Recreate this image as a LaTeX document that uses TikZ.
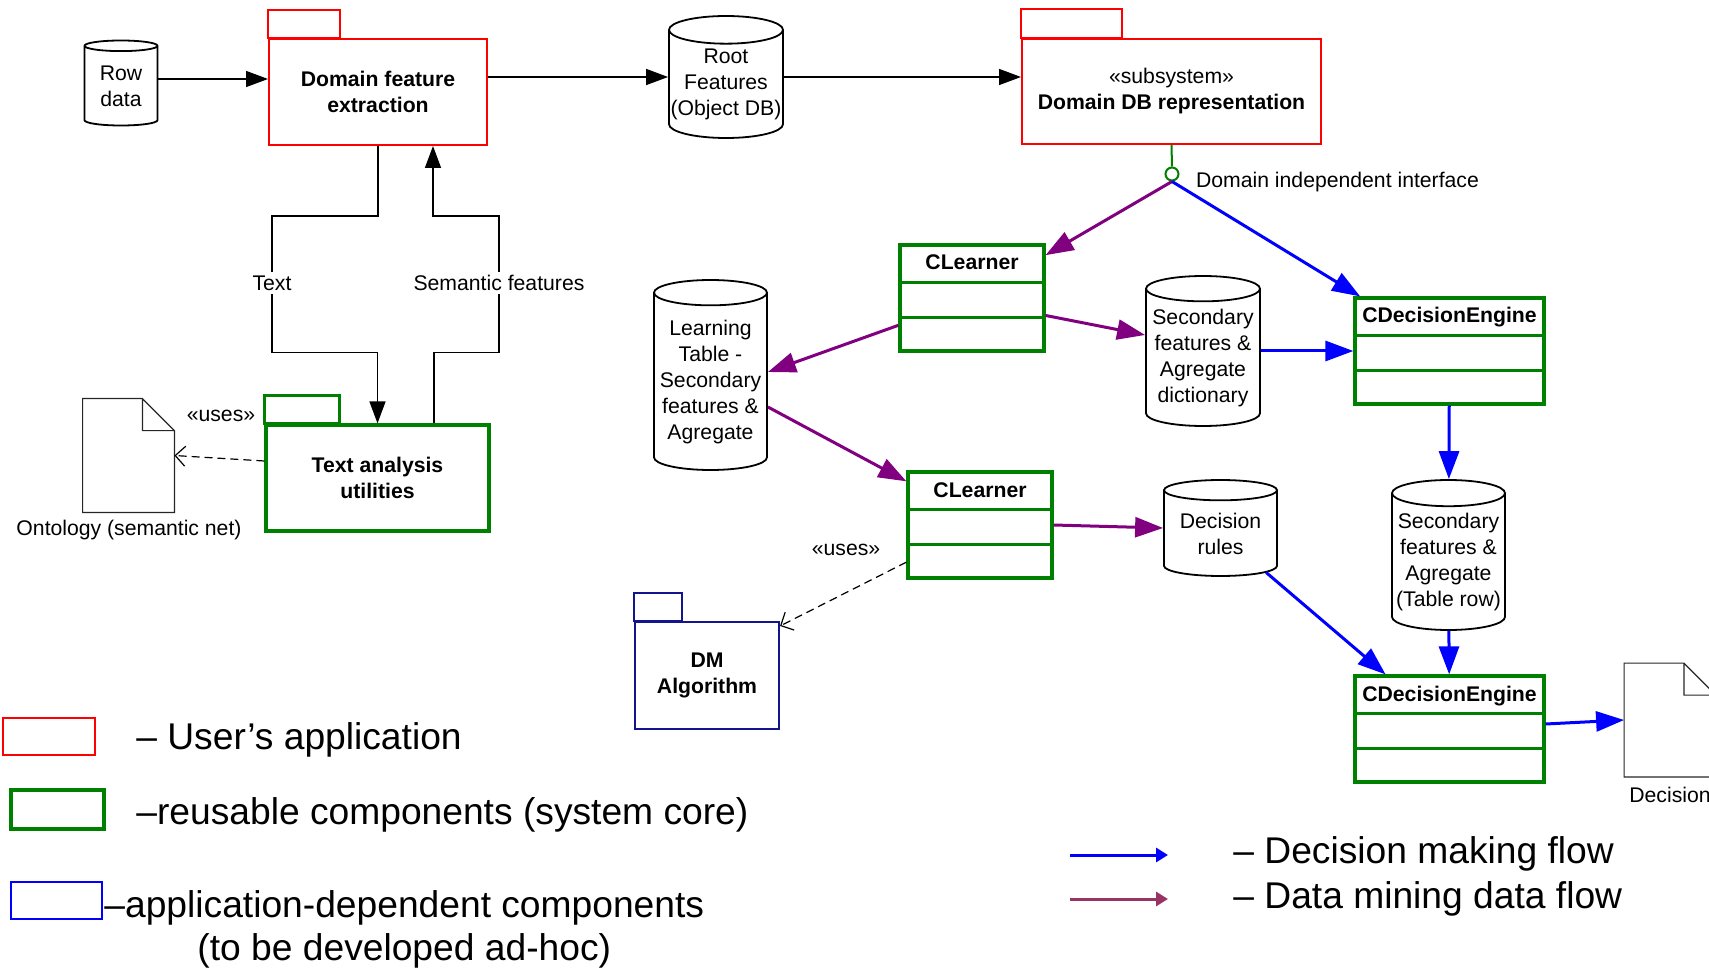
\documentclass[tikz,border=0pt]{standalone}
\usepackage{fontspec}
\setmainfont{Liberation Sans}
\usetikzlibrary{shapes.geometric,arrows.meta,calc}

\definecolor{userred}{HTML}{FF0000}
\definecolor{coregreen}{HTML}{008000}
\definecolor{dmpurple}{HTML}{800080}
\definecolor{flowblue}{HTML}{0000FF}
\definecolor{dmnavy}{HTML}{14148C}
\definecolor{keypurple}{HTML}{993366}

\begin{document}
\begin{tikzpicture}[x=0.5pt,y=-0.5pt,
    font=\fontsize{10.6}{13}\selectfont,
    userbox/.style={draw=userred,line width=1pt,inner sep=0pt,align=center},
    corebox/.style={draw=coregreen,line width=1.6pt,inner sep=0pt,align=center},
    appbox/.style={draw=dmnavy,line width=1pt,inner sep=0pt,align=center},
    pkgtitle/.style={font=\bfseries\fontsize{10.6}{13}\selectfont},
    classtitle/.style={anchor=base,yshift=-13.3pt,font=\bfseries\fontsize{10.6}{13}\selectfont},
    db/.style={cylinder,shape border rotate=90,aspect=0.25,draw,line width=0.9pt,
      inner sep=0pt,align=center,anchor=shape center},
    docbox/.style={inner sep=0pt,minimum width=45.5pt,minimum height=56.5pt},
    docline/.style={draw=black!85,line width=0.6pt},
    plain/.style={line width=0.75pt},
    blackarrow/.style={plain,-{Triangle[length=11pt,width=8pt]}},
    decflow/.style={draw=flowblue,line width=1.5pt,-{Triangle[length=14pt,width=10pt]}},
    dmflow/.style={draw=dmpurple,line width=1.5pt,-{Triangle[length=14pt,width=10pt]}},
    uses/.style={dash pattern=on 4pt off 2.5pt,line width=0.6pt,-{Straight Barb[length=5pt,width=10pt]}},
    flowlabel/.style={fill=white,inner sep=1.5pt},
    legendtext/.style={anchor=west,align=center,inner sep=0pt,font=\fontsize{18.6}{21.5}\selectfont},
  ]
  \useasboundingbox (0,0) rectangle (1709,968);

  % user's application
  \node[userbox,pkgtitle,minimum width=109pt,minimum height=53pt] (dfe) at (378,92) {Domain feature\\extraction};
  \draw[userbox] (dfe.north west) rectangle ++(72,-28);
  \node[userbox,minimum width=149.5pt,minimum height=52.5pt] (ddb) at (1171.5,91.5)
      {«subsystem»\\\textbf{Domain DB representation}};
  \draw[userbox] (ddb.north west) rectangle ++(101,-29);

  % data stores
  \node[db,minimum width=36.5pt,minimum height=42.5pt] (row) at (121,83) {Row\\data};
  \node[db,minimum width=57pt,minimum height=61pt] (root) at (726,77) {Root\\Features\\(Object DB)};
  \node[db,minimum width=56.5pt,minimum height=95pt] (lt) at (710.5,375)
      {Learning\\Table -\\Secondary\\features \&\\Agregate};
  \node[db,minimum width=57pt,minimum height=75pt] (dict) at (1203,351)
      {Secondary\\features \&\\Agregate\\dictionary};
  \node[db,minimum width=56.5pt,minimum height=48pt] (rules) at (1220.5,528) {Decision\\rules};
  \node[db,minimum width=56.5pt,minimum height=75pt] (trow) at (1448.5,555)
      {Secondary\\features \&\\Agregate\\(Table row)};

  % reusable core
  \node[corebox,minimum width=72pt,minimum height=53pt,label={[classtitle]north:CLearner}] (cl1) at (972,298) {};
  \node[corebox,minimum width=72pt,minimum height=53pt,label={[classtitle]north:CLearner}] (cl2) at (980,525) {};
  \node[corebox,minimum width=94.5pt,minimum height=53pt,label={[classtitle]north:CDecisionEngine}] (cde1) at (1449.5,351) {};
  \node[corebox,minimum width=94.5pt,minimum height=53pt,label={[classtitle]north:CDecisionEngine}] (cde2) at (1449.5,729) {};
  \foreach \c in {cl1,cl2,cde1,cde2}
    \foreach \f in {0.36,0.68}
      \draw[draw=coregreen,line width=1.6pt] ($(\c.north west)!\f!(\c.south west)$) -- ($(\c.north east)!\f!(\c.south east)$);

  \node[corebox,pkgtitle,minimum width=111.5pt,minimum height=53pt] (tau) at (377.5,478) {Text analysis\\utilities};
  \draw[draw=coregreen,line width=1.6pt] (tau.north west) rectangle ++(75,-28);

  % application dependent
  \node[appbox,pkgtitle,minimum width=72pt,minimum height=53.5pt] (dm) at (707,675.5) {DM\\Algorithm};
  \draw[appbox] (dm.north west) rectangle ++(48,-28);

  % interface
  \node[circle,draw=coregreen,line width=1pt,minimum size=6.5pt,inner sep=0pt] (iface) at (1172,174) {};
  \draw[draw=coregreen,line width=1pt] (ddb.south) -- (iface.north);
  \node[anchor=west] (ifacelbl) at (1189,182) {Domain independent interface};

  % documents
  \node[docbox] (onto) at (128.5,455.5) {};
  \node[docbox] (dec) at (1670,720) {};
  \foreach \d in {onto,dec}
    \draw[docline] (\d.north west) -- ([xshift=-16pt]\d.north east) -- ([yshift=-16pt]\d.north east)
      -- (\d.south east) -- (\d.south west) -- cycle
      ([xshift=-16pt]\d.north east) |- ([yshift=-16pt]\d.north east);
  \node (ontolbl) at (129,530) {Ontology (semantic net)};
  \node (declbl) at (1670,795) {Decision};
  \node (uses1) at (221,416) {«uses»};
  \node (uses2) at (846,550) {«uses»};

  % black flows
  \draw[blackarrow] ([yshift=2pt]row.east |- row.shape center) -- ([yshift=2pt]dfe.west |- row.shape center);
  \draw[blackarrow] (dfe.east |- root.shape center) -- (root.west |- root.shape center);
  \draw[blackarrow] (root.east |- root.shape center) -- (ddb.west |- root.shape center);
  \node[flowlabel] (txt) at (272,283) {Text};
  \node[flowlabel] (sem) at (499,283) {Semantic features};
  \draw[plain] (dfe.south) -- ++(0,70) -| (txt.north);
  \draw[blackarrow] (txt.south) |- ([yshift=35.5pt]tau.north) -- (tau.north);
  \coordinate (semfrom) at ($(tau.north west)!0.75!(tau.north east)$);
  \coordinate (semto) at ($(dfe.south west)!0.75!(dfe.south east)$);
  \draw[plain] (semfrom) -- ++(0,-71) -| (sem.south);
  \draw[blackarrow] (sem.north) |- ([yshift=-35pt]semto) -- (semto);

  % uses
  \draw[uses] ([yshift=8.5pt]tau.west) -- (onto.east);
  \draw[uses] ($(cl2.north west)!0.84!(cl2.south west)$) -- ([yshift=-2.5pt]dm.north east);

  % data mining and decision flows
  \draw[dmflow] (iface.south) -- (cl1);
  \draw[decflow] (iface.south) -- (cde1);
  \draw[dmflow] ($(cl1.south west)!0.25!(cl1.north west)$) -- ([yshift=1.5pt]lt.east |- lt.shape center);
  \draw[dmflow] ($(cl1.north east)!0.66!(cl1.south east)$) -- ([yshift=8pt]dict.west |- dict.shape center);
  \draw[decflow] (dict.east |- dict.shape center) -- (cde1.west |- dict.shape center);
  \draw[dmflow] ([yshift=-16pt]lt.east |- lt.shape center) -- ($(cl2.north west)!0.1!(cl2.south west)$);
  \draw[dmflow] (cl2.east) -- (rules.west |- rules.shape center);
  \draw[decflow] (rules) -- (cde2);
  \draw[decflow] (cde1) -- (trow);
  \draw[decflow] (trow) -- (cde2);
  \draw[decflow] ([yshift=2.5pt]cde2.east) -- (dec.west);

  % legend
  \node[draw=userred,line width=1pt,minimum width=46pt,minimum height=18.5pt] (keyuser) at (49,736.5) {};
  \node[legendtext] (keyusertxt) at (136,740) {– User’s application};
  \node[draw=coregreen,line width=2pt,minimum width=46.5pt,minimum height=19.5pt] (keycore) at (57.5,809.5) {};
  \node[legendtext] (keycoretxt) at (136,815) {–reusable components (system core)};
  \node[draw=flowblue,line width=1.3pt,minimum width=45.5pt,minimum height=18.5pt] (keyapp) at (56.5,900.5) {};
  \node[legendtext] (keyapptxt) at (104,929) {–application-dependent components\\(to be developed ad-hoc)};
  \coordinate (keydecA) at (1070,855);
  \coordinate (keydecB) at (1168,855);
  \coordinate (keydmA) at (1070,899);
  \coordinate (keydmB) at (1168,899);
  \draw[draw=flowblue,line width=1.5pt,-{Triangle[length=6pt,width=7pt]}] (keydecA) -- (keydecB);
  \draw[draw=keypurple,line width=1.5pt,-{Triangle[length=6pt,width=7pt]}] (keydmA) -- (keydmB);
  \node[legendtext] (keydectxt) at (1233,854) {– Decision making flow};
  \node[legendtext] (keydmtxt) at (1233,899) {– Data mining data flow};
\end{tikzpicture}
\end{document}
